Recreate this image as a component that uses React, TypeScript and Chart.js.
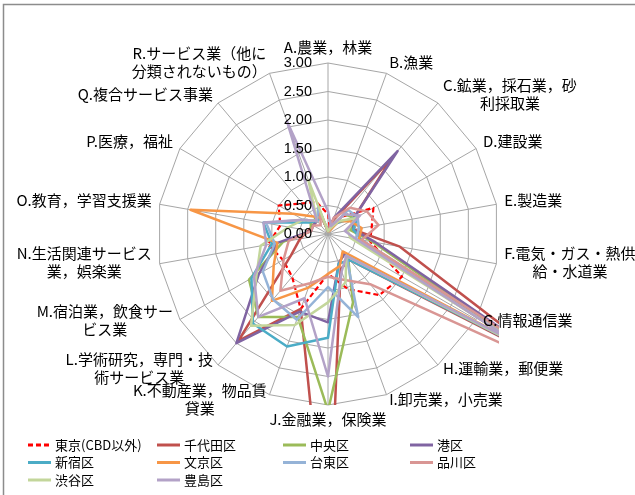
import { useEffect, useRef } from "react";
import { Chart, registerables } from "chart.js";

Chart.register(...registerables);

// Industry categories (each entry holds the wrapped lines of its label)
const categories: string[][] = [
  ["A.農業，林業"],
  ["B.漁業"],
  ["C.鉱業，採石業，砂", "利採取業"],
  ["D.建設業"],
  ["E.製造業"],
  ["F.電気・ガス・熱供", "給・水道業"],
  ["G.情報通信業"],
  ["H.運輸業，郵便業"],
  ["I.卸売業，小売業"],
  ["J.金融業，保険業"],
  ["K.不動産業，物品賃", "貸業"],
  ["L.学術研究，専門・技", "術サービス業"],
  ["M.宿泊業，飲食サー", "ビス業"],
  ["N.生活関連サービス", "業，娯楽業"],
  ["O.教育，学習支援業"],
  ["P.医療，福祉"],
  ["Q.複合サービス事業"],
  ["R.サービス業（他に", "分類されないもの）"],
];

// Specialization coefficients, A..R
const tokyoOther = [0.35, 0.1, 0.4, 0.92, 0.78, 0.75, 1.5, 1.4, 1.03, 0.7, 1.4, 0.98, 0.91, 1.07, 0.85, 1.0, 0.7, 0.6];
const chiyoda = [0.05, 0.25, 1.75, 0.5, 0.45, 1.28, 4.5, 0.6, 0.65, 6.0, 1.4, 2.45, 0.75, 0.5, 0.35, 0.3, 0.3, 0.35];
const chuo = [0.05, 0.15, 0.45, 0.55, 0.4, 0.8, 4.0, 0.55, 1.28, 3.1, 1.55, 1.9, 1.6, 0.8, 0.3, 0.35, 0.35, 0.3];
const minato = [0.05, 0.3, 1.9, 0.5, 0.45, 0.85, 4.5, 0.45, 0.55, 1.55, 1.45, 2.5, 1.4, 0.9, 0.3, 0.3, 0.3, 0.45];
const shinjuku = [0.05, 0.1, 0.25, 0.6, 0.45, 0.6, 4.0, 0.6, 0.55, 1.82, 2.1, 2.05, 1.55, 1.0, 1.15, 0.4, 0.3, 0.3];
const bunkyo = [0.05, 0.05, 0.3, 0.45, 0.6, 0.55, 3.8, 0.4, 0.6, 0.7, 1.0, 1.53, 1.1, 0.9, 2.45, 0.71, 0.4, 0.3];
const taito = [0.05, 0.1, 0.55, 0.6, 0.55, 0.5, 3.8, 0.5, 1.55, 0.93, 1.6, 1.5, 1.32, 0.95, 1.1, 0.5, 0.3, 0.5];
const shinagawa = [0.05, 0.3, 0.6, 0.79, 0.9, 0.6, 5.0, 1.15, 0.86, 0.75, 0.92, 1.3, 0.9, 0.7, 0.3, 0.3, 0.2, 0.4];
const shibuya = [0.05, 0.1, 0.3, 0.55, 0.35, 0.4, 4.2, 0.5, 0.9, 1.2, 1.7, 2.1, 1.45, 1.2, 0.7, 0.5, 0.3, 1.0];
const toshima = [0.4, 0.15, 0.45, 0.65, 0.3, 0.5, 3.8, 0.5, 0.7, 2.5, 1.2, 1.9, 1.5, 1.1, 1.15, 0.5, 0.3, 2.1];

const seriesNames = ["東京(CBD以外)", "千代田区", "中央区", "港区", "新宿区", "文京区", "台東区", "品川区", "渋谷区", "豊島区"];
const seriesValues = [tokyoOther, chiyoda, chuo, minato, shinjuku, bunkyo, taito, shinagawa, shibuya, toshima];
const seriesColors = ["#FF0000", "#C0504D", "#9BBB59", "#8064A2", "#4BACC6", "#F79646", "#95B3D7", "#D99694", "#C3D69B", "#B3A2C7"];

const axisMin = 0;
const axisMax = 3;
const axisStep = 0.5;

const LABEL_FONT = '15px "Noto Sans CJK JP", sans-serif';
const TICK_FONT = '14.5px "Liberation Sans", sans-serif';
const LEGEND_FONT = '13px "Noto Sans CJK JP", sans-serif';

const decorPlugin = {
  id: "decor",
  beforeDraw(chart: any) {
    const ctx = chart.ctx as CanvasRenderingContext2D;
    ctx.save();
    ctx.fillStyle = "#ffffff";
    ctx.fillRect(0, 0, chart.width, chart.height);
    ctx.strokeStyle = "#8c8c8c";
    ctx.lineWidth = 1.5;
    ctx.beginPath();
    ctx.moveTo(3.5, chart.height);
    ctx.lineTo(3.5, 4.5);
    ctx.lineTo(chart.width, 4.5);
    ctx.stroke();
    ctx.restore();
  },
  afterDatasetsDraw(chart: any) {
    const ctx = chart.ctx as CanvasRenderingContext2D;
    const scale = chart.scales.r;
    ctx.save();
    // value labels along the vertical axis
    ctx.font = TICK_FONT;
    ctx.fillStyle = "#000";
    ctx.textAlign = "right";
    ctx.textBaseline = "middle";
    scale.ticks.forEach((t: any) => {
      const d = scale.getDistanceFromCenterForValue(t.value);
      ctx.fillText(t.value.toFixed(2), scale.xCenter - 16, scale.yCenter - d);
    });
    // category labels around the web
    ctx.font = LABEL_FONT;
    ctx.textAlign = "center";
    const n = categories.length;
    const lh = 18;
    categories.forEach((lines, i) => {
      const p = scale.getPointPosition(i, scale.drawingArea + 8);
      const angle = (i * 360) / n;
      const w = Math.max(...lines.map((t) => ctx.measureText(t).width));
      const h = lines.length * lh;
      let cx = p.x;
      if (angle > 0 && angle < 180) cx = p.x + w / 2;
      else if (angle > 180) cx = p.x - w / 2;
      let top: number;
      if (angle === 0) top = p.y - h + 1;
      else if (angle === 180) top = p.y - 3;
      else top = p.y - 3 - h / 2;
      lines.forEach((t, k) => ctx.fillText(t, cx, top + lh * (k + 0.5)));
    });
    ctx.restore();
  },
  afterDraw(chart: any) {
    const ctx = chart.ctx as CanvasRenderingContext2D;
    const colX = [28, 157, 283, 410];
    const rowY = [445, 462.5, 480];
    ctx.save();
    ctx.font = LEGEND_FONT;
    ctx.textAlign = "left";
    ctx.textBaseline = "middle";
    chart.data.datasets.forEach((ds: any, i: number) => {
      const x = colX[i % 4];
      const y = rowY[Math.floor(i / 4)];
      ctx.strokeStyle = ds.borderColor;
      ctx.lineWidth = 3;
      ctx.setLineDash(ds.borderDash || []);
      ctx.beginPath();
      ctx.moveTo(x, y);
      ctx.lineTo(x + 23, y);
      ctx.stroke();
      ctx.setLineDash([]);
      ctx.fillStyle = "#000";
      ctx.fillText(ds.label, x + 27, y);
    });
    ctx.restore();
  },
};

export default function App() {
  const canvasRef = useRef<HTMLCanvasElement | null>(null);

  useEffect(() => {
    const canvas = canvasRef.current;
    if (!canvas) return;
    const n = seriesValues.length;
    const chart = new Chart(canvas, {
      type: "radar",
      data: {
        labels: categories.map((l) => l.join("")),
        datasets: seriesValues.map((values, i) => ({
          label: seriesNames[i],
          data: values,
          borderColor: seriesColors[i],
          backgroundColor: seriesColors[i],
          borderWidth: i === 0 ? 2.2 : 2.5,
          borderDash: i === 0 ? [5, 3] : undefined,
          borderJoinStyle: "round" as const,
          pointRadius: 0,
          pointHoverRadius: 0,
          fill: false,
          clip: 0,
          order: n - i,
        })),
      },
      options: {
        animation: false,
        responsive: false,
        maintainAspectRatio: false,
        layout: { padding: { left: 157, right: 136, top: 63, bottom: 90 } },
        plugins: { legend: { display: false }, tooltip: { enabled: false } },
        scales: {
          r: {
            min: axisMin,
            max: axisMax,
            ticks: { display: false, stepSize: axisStep },
            pointLabels: { display: false },
            grid: { color: "#a6a6a6", lineWidth: 1, circular: false },
            angleLines: { color: "#a6a6a6", lineWidth: 1 },
          },
        },
      },
      plugins: [decorPlugin],
    });
    return () => chart.destroy();
  }, []);

  return (
    <div style={{ position: "absolute", left: 0, top: 0, width: 635, height: 495 }}>
      <canvas ref={canvasRef} width={635} height={495} style={{ display: "block", width: 635, height: 495 }} />
    </div>
  );
}
